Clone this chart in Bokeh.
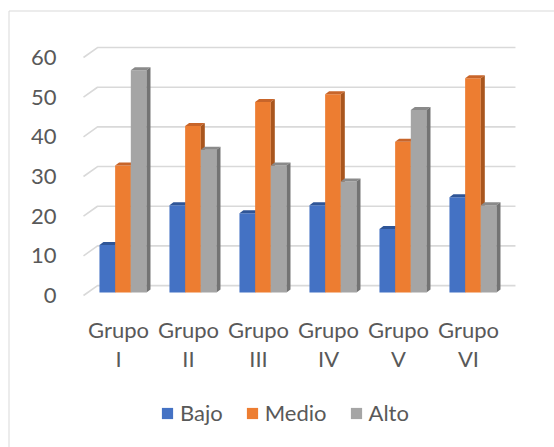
from bokeh.plotting import figure
from bokeh.models import Range1d, FixedTicker, Legend, LegendItem, LinearAxis
from bokeh.embed import file_html
from bokeh.resources import INLINE

# ---- data ----
groups = ["Grupo\nI", "Grupo\nII", "Grupo\nIII", "Grupo\nIV", "Grupo\nV", "Grupo\nVI"]
series_names = ["Bajo", "Medio", "Alto"]
bajo = [12, 22, 20, 22, 16, 24]
medio = [32, 42, 48, 50, 38, 54]
alto = [56, 36, 32, 28, 46, 22]
y_ticks = [0, 10, 20, 30, 40, 50, 60]

front_colors = ["#4472C4", "#ED7D31", "#A5A5A5"]
top_colors = ["#2F5597", "#C8652A", "#8A8A8A"]
side_colors = ["#2F5597", "#A9561E", "#737373"]

FONT = "Lato"
TXT = "#595959"
FS = "22px"

W, H = 554, 447
PX, PY = 70.0, 3.967              # pixels per data unit
X0, X1 = -118 / PX, (W - 118) / PX
Y0, Y1 = -(H - 295) / PY, 295 / PY

p = figure(width=W, height=H, output_backend="svg", toolbar_location=None,
           x_range=Range1d(X0, X1), y_range=Range1d(Y0, Y1),
           x_axis_location=None, y_axis_location=None,
           min_border=0, min_border_left=0, min_border_right=0,
           min_border_top=0, min_border_bottom=0)
p.outline_line_color = None
p.grid.visible = False

# axes drawn inside the frame
yax = LinearAxis(fixed_location=-0.5, ticker=FixedTicker(ticks=y_ticks))
yax.axis_line_color = None
yax.major_tick_line_color = None
yax.minor_tick_line_color = None
yax.major_label_standoff = 21
yax.major_label_text_font = FONT
yax.major_label_text_font_size = FS
yax.major_label_text_color = TXT
p.add_layout(yax, "left")

xax = LinearAxis(fixed_location=-1.26, ticker=FixedTicker(ticks=list(range(len(groups)))))
xax.major_label_overrides = {i: g for i, g in enumerate(groups)}
xax.axis_line_color = None
xax.major_tick_line_color = None
xax.minor_tick_line_color = None
xax.major_label_standoff = 10
xax.major_label_text_font = FONT
xax.major_label_text_font_size = FS
xax.major_label_text_color = TXT
xax.major_label_text_line_height = 1.05
p.add_layout(xax, "below")

# chart border (top and left edges visible)
bx = X0 + 8.5 / PX
by = Y1 - 10.5 / PY
p.line([bx, bx, X1], [Y0, by, by], line_color="#D9D9D9", line_width=1)

# 3D geometry (in data units)
x_left, x_right = -0.5, 5.671
back_dx, back_dy = 0.2, 2.5       # back wall offset
base = 0.756                      # bar base height above front floor
bw = 0.224                        # bar width
offs = [-0.160, 0.064, 0.288]     # bar centres relative to group
dx, dy = 0.057, 0.756             # bar depth offset

# back wall gridlines + floor diagonals
gx, gy = [], []
for t in y_ticks:
    gx.append([x_left, x_left + back_dx, x_right])
    gy.append([t, t + back_dy, t + back_dy])
p.multi_line(gx, gy, line_color="#D9D9D9", line_width=1.6)

renderers = []
for j, vals in enumerate([bajo, medio, alto]):
    xs_c = [i + offs[j] for i in range(len(vals))]
    tops = [v + base for v in vals]
    r = p.vbar(x=xs_c, width=bw, bottom=base, top=tops,
               fill_color=front_colors[j], line_color=None)
    renderers.append(r)
    top_xs, top_ys, side_xs, side_ys = [], [], [], []
    for xc, t in zip(xs_c, tops):
        xl, xr = xc - bw / 2, xc + bw / 2
        top_xs.append([xl, xr, xr + dx, xl + dx])
        top_ys.append([t, t, t + dy, t + dy])
        side_xs.append([xr, xr, xr + dx, xr + dx])
        side_ys.append([base, t, t + dy, base + dy])
    p.patches(top_xs, top_ys, fill_color=top_colors[j], line_color=None)
    p.patches(side_xs, side_ys, fill_color=side_colors[j], line_color=None)

legend = Legend(items=[LegendItem(label=n, renderers=[r]) for n, r in zip(series_names, renderers)],
                orientation="horizontal", location=(160, 21),
                glyph_width=14, glyph_height=14, label_standoff=6, spacing=22,
                padding=0, margin=0, border_line_color=None, background_fill_alpha=0,
                label_text_font=FONT, label_text_font_size=FS, label_text_color=TXT,
                label_height=20)
p.add_layout(legend, "center")

open("out.html", "w").write(file_html(p, INLINE))
